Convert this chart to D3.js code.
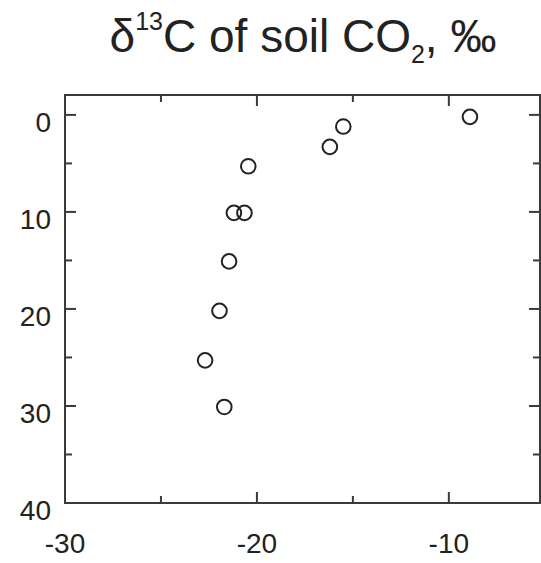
<!DOCTYPE html>
<html>
<head>
<meta charset="utf-8">
<script src="https://cdn.jsdelivr.net/npm/d3@7"></script>
<style>
  html, body { margin: 0; padding: 0; background: #fff; }
  svg { display: block; }
  text { font-family: "Liberation Sans", Arial, Helvetica, sans-serif; fill: #222; }
</style>
</head>
<body>
<svg id="chart" width="541" height="563"></svg>
<script>
// δ13C of soil CO2 (‰) against depth
const delta13C = [-8.9, -15.5, -16.2, -20.45, -21.2, -20.65, -21.45, -21.95, -22.7, -21.7];
const depth    = [0.2, 1.2, 3.3, 5.3, 10.1, 10.1, 15.1, 20.2, 25.3, 30.1];

const xTicks = [-30, -25, -20, -15, -10];
const xLabels = ["-30", "-20", "-10"];
const yTicks = [0, 5, 10, 15, 20, 25, 30, 35, 40];
const yLabels = ["0", "10", "20", "30", "40"];

const svg = d3.select("#chart");

const x = d3.scaleLinear().domain([-30, -5.25]).range([65, 540]);
const y = d3.scaleLinear().domain([-2.05, 40]).range([95, 503]);

const axisColor = "#3a3a3a";
const isMajorX = v => xLabels.includes(String(v));
const isMajorY = v => yLabels.includes(String(v));

// frame
svg.append("rect")
  .attr("x", x(-30)).attr("y", y(-2.05))
  .attr("width", x(-5.25) - x(-30)).attr("height", y(40) - y(-2.05))
  .attr("fill", "none").attr("stroke", axisColor).attr("stroke-width", 2);

// inward ticks on all four sides
const majorLen = 11, minorLen = 7;
const g = svg.append("g").attr("stroke", axisColor).attr("stroke-width", 2);

xTicks.forEach(v => {
  const L = isMajorX(v) ? majorLen : minorLen;
  g.append("line").attr("x1", x(v)).attr("x2", x(v)).attr("y1", y(40)).attr("y2", y(40) - L);
  g.append("line").attr("x1", x(v)).attr("x2", x(v)).attr("y1", y(-2.05)).attr("y2", y(-2.05) + L);
});
yTicks.forEach(v => {
  const L = isMajorY(v) ? majorLen : minorLen;
  g.append("line").attr("x1", x(-30)).attr("x2", x(-30) + L).attr("y1", y(v)).attr("y2", y(v));
  g.append("line").attr("x1", x(-5.25)).attr("x2", x(-5.25) - L).attr("y1", y(v)).attr("y2", y(v));
});

// tick labels
svg.append("g").selectAll("text").data(xLabels).join("text")
  .attr("x", d => x(+d))
  .attr("y", 553)
  .attr("text-anchor", "middle")
  .attr("font-size", 28)
  .text(d => d);

svg.append("g").selectAll("text").data(yLabels).join("text")
  .attr("x", 51)
  .attr("y", d => y(+d) + 17)
  .attr("text-anchor", "end")
  .attr("font-size", 28)
  .text(d => d);

// data points
svg.append("g").selectAll("circle").data(delta13C).join("circle")
  .attr("cx", d => x(d))
  .attr("cy", (d, i) => y(depth[i]))
  .attr("r", 7.3)
  .attr("fill", "none")
  .attr("stroke", "#222")
  .attr("stroke-width", 2);

// title
const title = svg.append("text")
  .attr("x", 303)
  .attr("y", 52)
  .attr("text-anchor", "middle")
  .attr("font-size", 46);
title.append("tspan").text("δ");
title.append("tspan").attr("font-size", 25).attr("dy", -22).text("13");
title.append("tspan").attr("dy", 22).text("C of soil CO");
title.append("tspan").attr("font-size", 25).attr("dy", 11).text("2");
title.append("tspan").attr("dy", -11).text(", ‰");
</script>
</body>
</html>
